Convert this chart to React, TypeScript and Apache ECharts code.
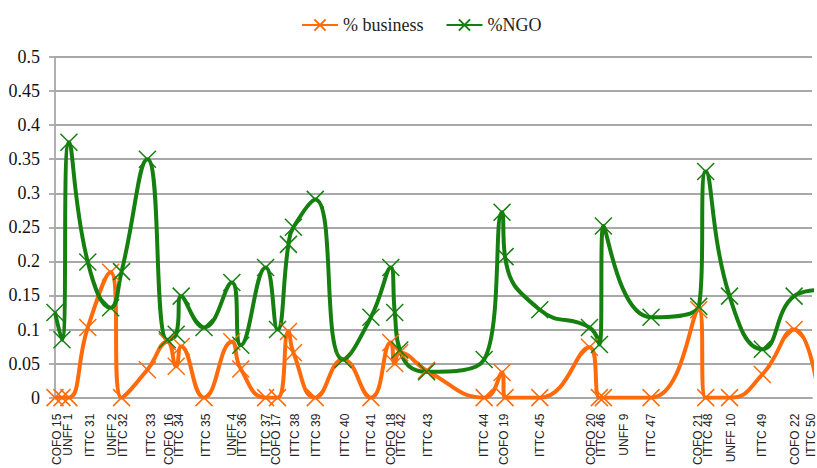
import React, { useEffect, useRef } from "react";
import * as echarts from "echarts";

// Position of each meeting along the timeline (axis units)
const meetingPos = [55, 62, 69, 88, 111, 122, 148, 168, 177, 182, 205, 233, 242, 267, 279, 290, 295, 317, 345, 373, 393, 397, 402, 429, 487, 505, 508, 543, 593, 603, 607, 655, 703, 710, 734, 767, 799, 824];
const business = [0, 0, 0, 0.103, 0.184, 0, 0.041, 0.082, 0.046, 0.075, 0, 0.082, 0.042, 0, 0, 0.097, 0.066, 0, 0.056, 0, 0.081, 0.05, 0.066, 0.04, 0, 0.037, 0, 0, 0.074, 0, 0, 0, 0.129, 0, 0, 0.034, 0.1, 0];
const ngo = [0.125, 0.085, 0.375, 0.199, 0.132, 0.185, 0.35, 0.085, 0.093, 0.149, 0.103, 0.169, 0.077, 0.191, 0.1, 0.225, 0.25, 0.291, 0.056, 0.118, 0.191, 0.125, 0.07, 0.038, 0.056, 0.272, 0.207, 0.129, 0.103, 0.078, 0.252, 0.118, 0.134, 0.332, 0.149, 0.071, 0.149, 0.158];

// Tick labels on the x axis
const labelNames = ["COFO 15", "UNFF 1", "ITTC 31", "UNFF 2", "ITTC 32", "ITTC 33", "COFO 16", "ITTC 34", "ITTC 35", "UNFF 4", "ITTC 36", "ITTC 37", "COFO 17", "ITTC 38", "ITTC 39", "ITTC 40", "ITTC 41", "COFO 18", "ITTC 42", "ITTC 43", "ITTC 44", "COFO 19", "ITTC 45", "COFO 20", "ITTC 46", "UNFF 9", "ITTC 47", "COFO 21", "ITTC 48", "UNFF 10", "ITTC 49", "COFO 22", "ITTC 50"];
const labelPos = [57, 68, 90, 112, 123, 152, 170, 180, 207, 233, 243, 267, 277, 297, 318, 347, 373, 393, 403, 430, 487, 507, 543, 595, 605, 628, 655, 702, 712, 735, 767, 800, 816];

const seriesNames = ["% business", "%NGO"];
const X_MIN = 55;
const X_MAX = 817;
const ORANGE = "#FF6B0B";
const GREEN = "#15800F";
const X_SYMBOL = "path://M0,0L10,10M10,0L0,10";

export default function App() {
  const ref = useRef<HTMLDivElement>(null);
  useEffect(() => {
    if (!ref.current) return;
    const chart = echarts.init(ref.current, undefined, { renderer: "svg" });
    const labelMap: Record<string, string> = {};
    labelPos.forEach((p, i) => (labelMap[String(p)] = labelNames[i]));
    const mk = (name: string, vals: number[], color: string) => ({
      name,
      type: "line",
      smooth: 0.5,
      clip: true,
      data: meetingPos.map((x, i) => [x, vals[i]]),
      symbol: X_SYMBOL,
      symbolSize: 17,
      showAllSymbol: true,
      lineStyle: { color, width: 4 },
      itemStyle: { color, borderColor: color, borderWidth: 1.5 },
      emphasis: { disabled: true },
    });
    chart.setOption({
      animation: false,
      backgroundColor: "#ffffff",
      legend: {
        left: 296,
        top: 11,
        itemWidth: 36,
        itemHeight: 14,
        itemGap: 22,
        data: seriesNames,
        textStyle: { fontFamily: "Liberation Serif", fontSize: 18, color: "#222" },
      },
      grid: { left: 55, top: 57, bottom: 69, right: 0, containLabel: false },
      xAxis: {
        type: "value",
        min: X_MIN,
        max: X_MAX,
        axisLine: { show: true, lineStyle: { color: "#a8a8a8", width: 1.8 } },
        axisTick: { show: false },
        splitLine: { show: false },
        axisLabel: {
          // blank end values so that the min/max label overlap check never hides a real label
          customValues: [X_MIN, ...labelPos, X_MAX],
          showMinLabel: false,
          showMaxLabel: false,
          hideOverlap: false,
          rotate: 90,
          margin: 16,
          fontFamily: "Liberation Sans",
          fontSize: 12,
          color: "#222",
          formatter: (v: number) => labelMap[String(v)] ?? "",
        },
      },
      yAxis: {
        type: "value",
        min: 0,
        max: 0.5,
        interval: 0.05,
        axisLine: { show: true, lineStyle: { color: "#a8a8a8", width: 1.8 } },
        axisTick: { show: true, length: 6, lineStyle: { color: "#a8a8a8", width: 1.8 } },
        splitLine: { show: true, lineStyle: { color: "#a8a8a8", width: 1.8 } },
        axisLabel: {
          margin: 15,
          fontFamily: "Liberation Serif",
          fontSize: 18,
          color: "#111",
          formatter: (v: number) => String(Number(v.toFixed(2))),
        },
      },
      series: [mk(seriesNames[0], business, ORANGE), mk(seriesNames[1], ngo, GREEN)],
    });
    return () => chart.dispose();
  }, []);
  return (
    <div
      ref={ref}
      style={{ position: "fixed", left: 0, top: 0, width: 817, height: 468, background: "#fff" }}
    />
  );
}
